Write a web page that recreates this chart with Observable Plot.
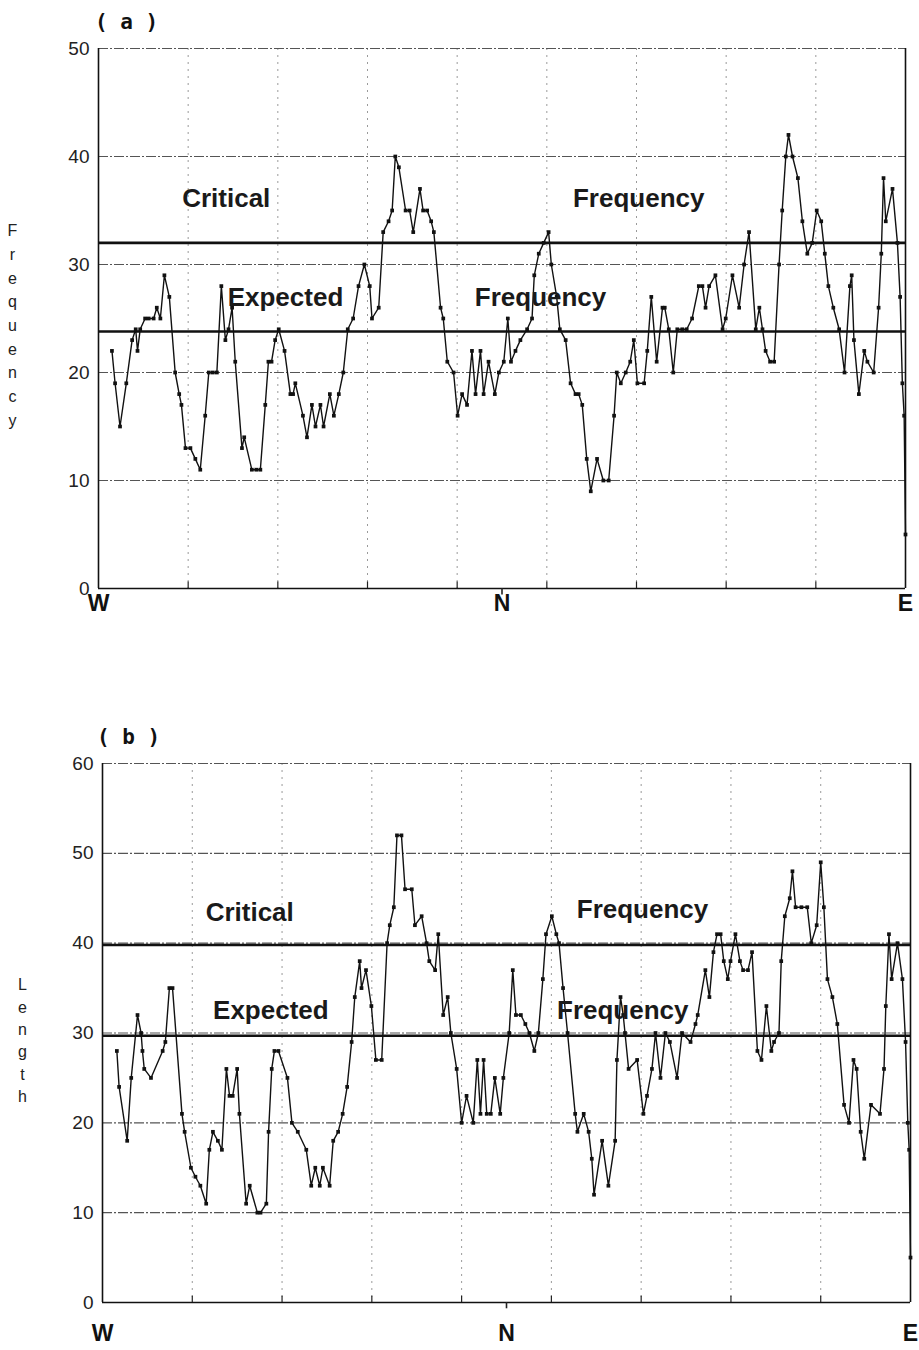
<!DOCTYPE html>
<html><head><meta charset="utf-8">
<script src="https://cdn.jsdelivr.net/npm/d3@7"></script>
<script src="https://cdn.jsdelivr.net/npm/@observablehq/plot@0.6"></script>
<style>
body{margin:0;background:#fff;}
#wrap{position:relative;width:919px;height:1350px;overflow:hidden;background:#fff;}
#wrap > div{position:absolute;left:0;}
svg{overflow:visible;}
</style></head><body>
<div id="wrap"><div id="pa" style="top:0px"></div><div id="pb" style="top:640px"></div></div>
<script>
// ---- data (position from W=0 through N=90 to E=180) ----
const posA = [3.0,3.7,4.8,6.2,7.5,8.3,8.7,9.3,10.4,11.2,12.3,13.0,13.8,14.7,15.8,17.1,18.0,18.5,19.4,20.5,21.6,22.7,23.8,24.6,25.5,26.4,27.4,28.3,29.0,29.8,30.5,32.0,32.5,34.2,35.2,36.1,37.2,37.9,38.6,39.4,40.2,41.5,42.8,43.4,43.9,45.6,46.5,47.6,48.4,49.5,50.2,51.6,52.5,53.6,54.6,55.6,56.8,58.0,59.3,60.5,61.0,62.5,63.5,64.7,65.5,66.2,67.0,68.5,69.4,70.2,71.7,72.4,73.3,74.2,74.8,76.3,76.9,77.8,79.2,80.1,81.1,82.2,83.3,84.1,85.2,85.9,87.0,88.4,89.3,90.4,91.3,92.0,93.0,94.1,95.6,96.7,97.2,98.2,99.3,100.4,101.0,102.2,102.9,104.2,105.3,106.4,107.1,107.9,108.9,109.8,111.2,112.6,113.8,115.0,115.6,116.5,117.6,118.6,119.4,120.2,121.7,122.4,123.3,124.5,125.8,126.3,127.2,128.2,129.1,130.2,131.2,132.4,133.9,134.7,135.4,136.2,137.6,139.2,139.9,141.4,142.9,144.0,145.1,146.6,147.4,148.1,148.8,149.8,150.7,151.8,152.5,153.3,153.9,154.8,156.0,157.0,158.1,159.2,160.2,161.2,162.0,162.8,163.9,165.2,166.4,167.6,168.0,168.5,169.6,170.8,171.5,172.9,174.0,174.6,175.1,175.6,177.1,178.2,178.8,179.3,179.7,180.0];
const freqA = [22,19,15,19,23,24,22,24,25,25,25,26,25,29,27,20,18,17,13,13,12,11,16,20,20,20,28,23,24,26,21,13,14,11,11,11,17,21,21,23,24,22,18,18,19,16,14,17,15,17,15,18,16,18,20,24,25,28,30,28,25,26,33,34,35,40,39,35,35,33,37,35,35,34,33,26,25,21,20,16,18,17,22,18,22,18,21,18,20,21,25,21,22,23,24,25,29,31,32,33,30,27,24,23,19,18,18,17,12,9,12,10,10,16,20,19,20,21,23,19,19,22,27,21,26,26,24,20,24,24,24,25,28,28,26,28,29,24,25,29,26,30,33,24,26,24,22,21,21,30,35,40,42,40,38,34,31,32,35,34,31,28,26,24,20,28,29,23,18,22,21,20,26,31,38,34,37,32,27,19,16,5];

const posB = [3.2,3.7,5.5,6.4,7.8,8.6,8.9,9.3,10.8,13.4,14.0,14.9,15.6,17.7,18.3,19.7,20.7,21.8,23.1,23.8,24.6,25.7,26.6,27.6,28.3,29.0,30.0,30.5,32.0,32.8,34.5,35.2,36.5,37.0,37.7,38.3,39.2,41.2,42.2,43.5,45.4,46.5,47.4,48.4,49.1,50.6,51.4,52.5,53.5,54.5,55.5,56.2,57.3,57.7,58.7,59.9,60.9,62.2,63.4,64.0,64.9,65.6,66.6,67.4,68.9,69.6,71.1,72.2,72.8,74.1,74.8,75.9,76.9,77.6,78.9,80.0,81.1,82.6,83.5,84.2,84.9,85.6,86.5,87.4,88.6,89.3,90.6,91.4,92.1,93.2,94.2,95.1,96.2,97.1,98.1,98.8,100.1,101.1,101.7,102.6,103.6,105.3,105.8,107.2,108.3,109.0,109.5,111.3,112.7,114.2,114.6,115.4,116.0,116.4,117.2,119.1,120.5,121.3,122.4,123.2,124.3,125.4,126.4,128.0,129.1,131.0,132.1,132.6,134.3,135.2,136.1,136.9,137.7,138.4,139.3,139.9,141.0,142.0,142.7,143.8,144.7,145.9,146.8,147.9,149.0,149.6,150.7,151.2,152.0,153.1,153.7,154.4,155.7,157.0,157.9,159.1,160.0,160.7,161.5,162.6,163.7,165.2,166.3,167.3,168.0,168.9,169.7,171.2,173.2,174.1,174.5,175.2,175.8,177.1,178.2,178.9,179.4,179.7,180.0];
const lenB = [28,24,18,25,32,30,28,26,25,28,29,35,35,21,19,15,14,13,11,17,19,18,17,26,23,23,26,21,11,13,10,10,11,19,26,28,28,25,20,19,17,13,15,13,15,13,18,19,21,24,29,34,38,35,37,33,27,27,40,42,44,52,52,46,46,42,43,40,38,37,41,32,34,30,26,20,23,20,27,21,27,21,21,25,21,25,30,37,32,32,31,30,28,30,36,41,43,41,40,35,30,21,19,21,19,16,12,18,13,18,27,34,32,30,26,27,21,23,26,30,25,30,29,25,30,29,31,32,37,34,39,41,41,38,36,38,41,38,37,37,39,28,27,33,28,29,30,38,43,45,48,44,44,44,40,42,49,44,36,34,31,22,20,27,26,19,16,22,21,26,33,41,36,40,36,29,20,17,5];

const gridX = [20,40,60,80,100,120,140,160];
const dirPos = [0,90,180];
const dirNames = ["W","N","E"];
const ticksA = [0,10,20,30,40,50];
const ticksB = [0,10,20,30,40,50,60];
const criticalA = 32.0, expectedA = 23.8;
const criticalB = 39.8, expectedB = 29.7;
const wordsA = [
  {text:"Critical", x:28.5, y:36.1},
  {text:"Frequency", x:120.5, y:36.1},
  {text:"Expected", x:41.7, y:26.9},
  {text:"Frequency", x:98.6, y:26.9}
];
const wordsB = [
  {text:"Critical", x:32.8, y:43.4},
  {text:"Frequency", x:120.3, y:43.7},
  {text:"Expected", x:37.5, y:32.5},
  {text:"Frequency", x:115.9, y:32.5}
];

function panel(o) {
  const data = o.pos.map((p, i) => ({p, v: o.vals[i]}));
  const dirs = dirPos.map((p, i) => ({p, t: dirNames[i]}));
  return Plot.plot({
    width: 919, height: o.height,
    marginLeft: o.ml, marginRight: o.mr, marginTop: o.mt, marginBottom: o.mb,
    x: {domain: [0, 180], axis: null},
    y: {domain: [0, o.ymax]},
    style: {fontFamily: "'Liberation Sans', Arial, sans-serif", background: "#fff", color: "#111"},
    marks: [
      Plot.ruleX(gridX, {stroke: "#9a9a9a", strokeDasharray: "2,5", strokeWidth: 1}),
      Plot.ruleY(o.ticks.filter(t => t > 0), {stroke: "#555", strokeDasharray: "10,2,2,2", strokeWidth: 1.1}),
      Plot.ruleY([o.critical], {stroke: "#111", strokeWidth: 2.6}),
      Plot.ruleY([o.expected], {stroke: "#111", strokeWidth: 2.6}),
      Plot.ruleX([0, 180], {stroke: "#111", strokeWidth: 1.6}),
      Plot.ruleY([0], {stroke: "#111", strokeWidth: 1.6}),
      Plot.ruleX(gridX, {y1: 0, y2: o.tick, stroke: "#222", strokeWidth: 1.2}),
      Plot.ruleX([90], {y1: 0, y2: -o.tick, stroke: "#222", strokeWidth: 1.6}),
      Plot.line(data, {x: "p", y: "v", stroke: "#111", strokeWidth: 1.4}),
      Plot.dot(data, {x: "p", y: "v", symbol: "square", r: 2.1, fill: "#111"}),
      Plot.text(o.words, {x: "x", y: "y", text: "text", fontSize: 26, fontWeight: "bold", fill: "#1a1a1a"}),
      Plot.axisY(o.ticks, {tickSize: 0, tickPadding: 9, fontSize: 19, label: null, fill: "#222"}),
      Plot.text(dirs, {x: "p", y: 0, text: "t", dy: o.dirDy, fontSize: 23, fontWeight: "bold", fill: "#111"}),
      Plot.text([o.tag], {frameAnchor: "top-left", dx: o.tagDx, dy: o.tagDy, textAnchor: "middle", lineAnchor: "middle", fontSize: 21, fontWeight: "bold", fontFamily: "'DejaVu Sans Mono', monospace", fill: "#111"}),
      Plot.text([o.ylab], {frameAnchor: "left", dx: o.labDx, dy: o.labDy, textAnchor: "middle", lineAnchor: "middle", fontSize: 16, lineHeight: o.lh, fill: "#222"})
    ]
  });
}

document.getElementById("pa").append(panel({
  pos: posA, vals: freqA, ymax: 50, ticks: ticksA, critical: criticalA, expected: expectedA,
  words: wordsA, height: 640, ml: 98, mr: 14, mt: 48, mb: 52, tick: 0.6, dirDy: 15,
  tag: "( a )", tagDx: 28, tagDy: -26, ylab: "F\nr\ne\nq\nu\ne\nn\nc\ny", labDx: -86, labDy: 5, lh: 1.48
}));
document.getElementById("pb").append(panel({
  pos: posB, vals: lenB, ymax: 60, ticks: ticksB, critical: criticalB, expected: expectedB,
  words: wordsB, height: 710, ml: 102, mr: 9, mt: 123, mb: 48, tick: 0.7, dirDy: 31,
  tag: "( b )", tagDx: 26, tagDy: -26, ylab: "L\ne\nn\ng\nt\nh", labDx: -80, labDy: 6, lh: 1.4
}));
</script>
</body></html>
